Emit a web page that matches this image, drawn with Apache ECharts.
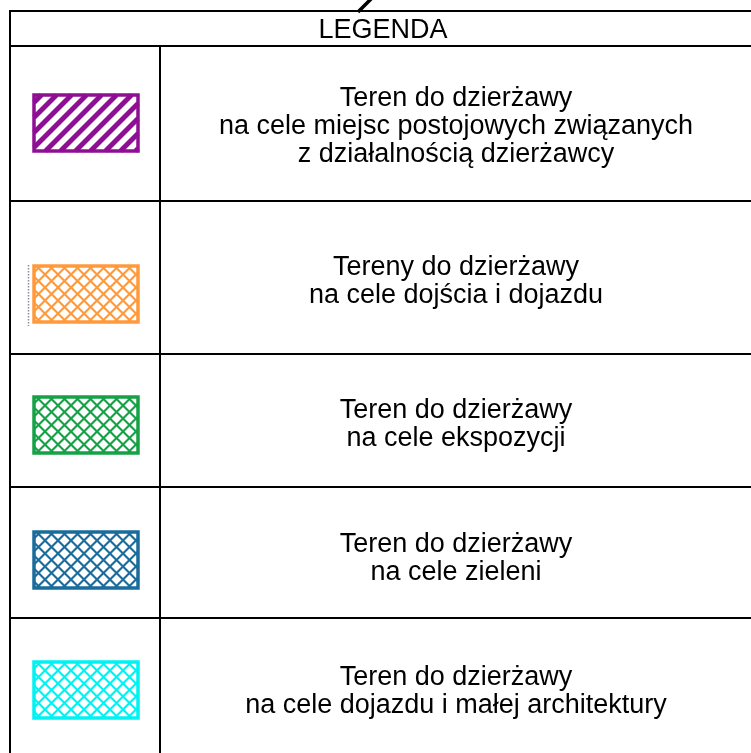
<!DOCTYPE html>
<html><head><meta charset="utf-8">
<script src="https://cdn.jsdelivr.net/npm/echarts@6/dist/echarts.min.js"></script>
<style>html,body{margin:0;padding:0;background:#fff}#c{width:751px;height:753px}</style>
</head><body><div id="c"></div>
<script>
// ---- data ----
const headerTitle = 'LEGENDA';
const descriptions = [
  ['Teren do dzierżawy', 'na cele miejsc postojowych związanych', 'z działalnością dzierżawcy'],
  ['Tereny do dzierżawy', 'na cele dojścia i dojazdu'],
  ['Teren do dzierżawy', 'na cele ekspozycji'],
  ['Teren do dzierżawy', 'na cele zieleni'],
  ['Teren do dzierżawy', 'na cele dojazdu i małej architektury']
];
const hatchTypes = ['stripes', 'cross', 'cross', 'cross', 'cross'];

// ---- styles / layout ----
const swatchColors = ['#8e0e94', '#ff9a3c', '#16a146', '#1a6c9c', '#00f2f2'];
const ROW_BOUNDS = [46, 201, 354, 487, 618, 753];
const SWATCH_TOP = [95, 266, 397, 532, 662];
const TEXT_Y = [127, 282, 425, 559, 692];
const SWATCH_X = 34, SWATCH_W = 104, SWATCH_H = 56;
const TEXT_X = 456;
const FONT = '27px "Liberation Sans", Arial, sans-serif';

function hatchLines(x0, y0, x1, y1, type, color) {
  const out = [];
  const step = type === 'stripes' ? 15 : 13;
  const lw = type === 'stripes' ? 5 : 2.2;
  for (let c = x0 + y0 + step / 2; c < x1 + y1; c += step) {
    const xa = Math.max(x0, c - y1), xb = Math.min(x1, c - y0);
    if (xb - xa > 0.5) out.push({type: 'line', silent: true,
      shape: {x1: xa, y1: c - xa, x2: xb, y2: c - xb},
      style: {stroke: color, lineWidth: lw}});
  }
  if (type === 'cross') {
    for (let c = x0 - y1 + step / 2; c < x1 - y0; c += step) {
      const xa = Math.max(x0, c + y0), xb = Math.min(x1, c + y1);
      if (xb - xa > 0.5) out.push({type: 'line', silent: true,
        shape: {x1: xa, y1: xa - c, x2: xb, y2: xb - c},
        style: {stroke: color, lineWidth: lw}});
    }
  }
  return out;
}

const chart = echarts.init(document.getElementById('c'), null, {renderer: 'canvas'});

const lineStyle = {stroke: '#000', lineWidth: 2};
const graphics = [
  {type: 'line', shape: {x1: 9, y1: 11, x2: 751, y2: 11}, style: lineStyle},
  {type: 'line', shape: {x1: 10, y1: 10, x2: 10, y2: 753}, style: lineStyle},
  {type: 'line', shape: {x1: 160, y1: 46, x2: 160, y2: 753}, style: lineStyle},
  {type: 'line', shape: {x1: 358, y1: 12, x2: 372, y2: -2}, style: {stroke: '#000', lineWidth: 3.5}},
  {type: 'text', style: {text: headerTitle, x: 383, y: 31, align: 'center', verticalAlign: 'middle', font: FONT, fill: '#000'}},
  {type: 'line', shape: {x1: 28.5, y1: 265, x2: 28.5, y2: 326}, style: {stroke: '#8c8ca0', lineWidth: 1.5, lineDash: [1.5, 1.5]}}
];
ROW_BOUNDS.slice(0, 5).forEach(function (y) {
  graphics.push({type: 'line', shape: {x1: 9, y1: y, x2: 751, y2: y}, style: lineStyle});
});

chart.setOption({
  animation: false,
  backgroundColor: '#fff',
  graphic: graphics,
  series: [{
    type: 'custom',
    coordinateSystem: 'none',
    silent: true,
    data: descriptions.map(function (d, i) { return [i]; }),
    renderItem: function (params, api) {
      const i = api.value(0);
      const color = swatchColors[i];
      const x0 = SWATCH_X, y0 = SWATCH_TOP[i], x1 = x0 + SWATCH_W, y1 = y0 + SWATCH_H;
      const children = hatchLines(x0, y0, x1, y1, hatchTypes[i], color);
      children.push({type: 'rect', silent: true,
        shape: {x: x0, y: y0, width: SWATCH_W, height: SWATCH_H},
        style: {fill: null, stroke: color, lineWidth: 3.5}});
      children.push({type: 'text', silent: true,
        style: {text: descriptions[i].join('\n'), x: TEXT_X, y: TEXT_Y[i],
          align: 'center', verticalAlign: 'middle', font: FONT, lineHeight: 28, fill: '#000'}});
      return {type: 'group', children: children};
    }
  }]
});
</script></body></html>
